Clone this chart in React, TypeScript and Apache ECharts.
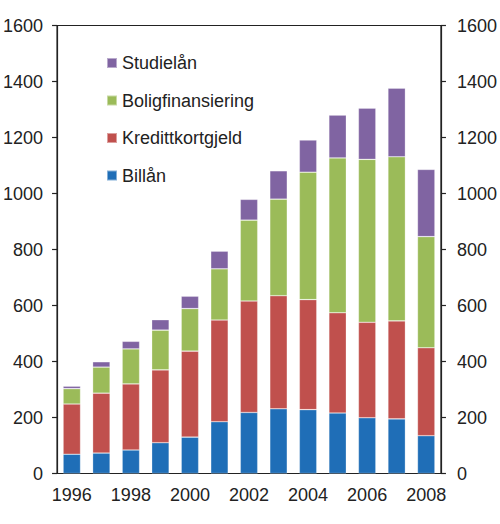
import * as echarts from "echarts";
import { useEffect, useRef } from "react";

const years = ["1996", "1997", "1998", "1999", "2000", "2001", "2002", "2003", "2004", "2005", "2006", "2007", "2008"];
const billan = [69, 73, 84, 110, 130, 185, 218, 231, 228, 216, 199, 195, 135];
const kredittkort = [179, 214, 236, 260, 307, 363, 398, 404, 393, 358, 341, 350, 314];
const bolig = [55, 93, 125, 142, 152, 183, 289, 345, 455, 553, 582, 586, 397];
const studielan = [9, 19, 27, 37, 44, 63, 74, 101, 115, 153, 183, 245, 240];

const FONT = "'Liberation Sans', Arial, sans-serif";
const AXIS = "#222";

const Chart = () => {
  const chartRef = useRef(null);

  useEffect(() => {
    const chartInstance = echarts.init(chartRef.current, null, { renderer: "svg" });

    const yAxisBase = {
      type: "value",
      min: 0,
      max: 1600,
      interval: 200,
      splitLine: { show: false },
      axisLine: { show: true, lineStyle: { color: AXIS, width: 1.2 } },
      axisTick: { show: true, length: 5, lineStyle: { color: AXIS, width: 1.2 } },
    };

    const options = {
      animation: false,
      textStyle: { fontFamily: FONT },
      grid: {
        left: 57,
        right: 59,
        top: 25.5,
        bottom: 50.5,
        show: true,
        borderColor: AXIS,
        borderWidth: 1.2,
        backgroundColor: "transparent",
      },
      legend: {
        orient: "vertical",
        left: 101,
        top: 49,
        itemWidth: 10,
        itemHeight: 10,
        itemGap: 19.5,
        icon: "rect",
        data: ["Studielån", "Boligfinansiering", "Kredittkortgjeld", "Billån"],
        textStyle: { fontSize: 18, color: "#222", fontFamily: FONT, lineHeight: 18 },
      },
      xAxis: {
        type: "category",
        data: years,
        axisLine: { lineStyle: { color: AXIS, width: 1.2 } },
        axisTick: { interval: 0, length: 6, lineStyle: { color: AXIS, width: 1.2 } },
        axisLabel: { interval: 1, fontSize: 18, color: "#222", margin: 12, fontFamily: FONT },
      },
      yAxis: [
        {
          ...yAxisBase,
          position: "left",
          axisLabel: { fontSize: 18, color: "#222", margin: 14, fontFamily: FONT, formatter: (v: number) => String(v) },
        },
        {
          ...yAxisBase,
          position: "right",
          axisLabel: { fontSize: 18, color: "#222", margin: 16, fontFamily: FONT, formatter: (v: number) => String(v) },
        },
      ],
      series: [
        { name: "Billån", data: billan, color: "#1f6eb7" },
        { name: "Kredittkortgjeld", data: kredittkort, color: "#c0504d" },
        { name: "Boligfinansiering", data: bolig, color: "#9bbb59" },
        { name: "Studielån", data: studielan, color: "#8064a2" },
      ].map((s) => ({
        ...s,
        type: "bar",
        stack: "total",
        barCategoryGap: "41%",
        itemStyle: { borderColor: "rgba(255,255,255,0.45)", borderWidth: 0.6 },
      })),
    };

    chartInstance.setOption(options);

    return () => {
      chartInstance.dispose();
    };
  }, []);

  return (
    <div
      ref={chartRef}
      style={{ position: "fixed", left: 0, top: 0, width: "500px", height: "524px", background: "#fff" }}
    />
  );
};

export default function App() {
  return <Chart />;
}
